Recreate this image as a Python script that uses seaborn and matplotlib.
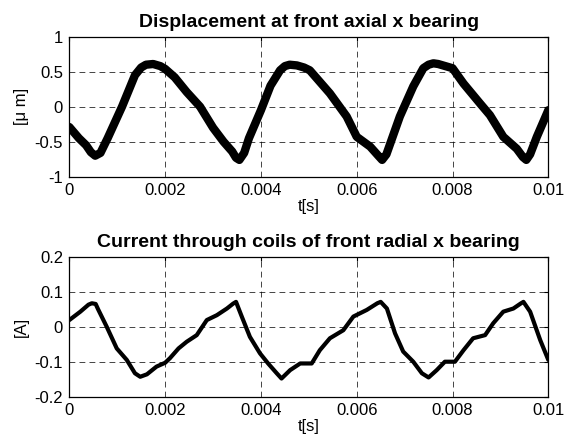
import numpy as np
import matplotlib
matplotlib.use("Agg")
import matplotlib.pyplot as plt
import seaborn as sns

# ---------------------------------------------------------------
# data (time in ms, converted to s below)
# ---------------------------------------------------------------
t_disp_ms = [0.0, 0.2, 0.35, 0.45, 0.54, 0.65, 0.8, 1.1, 1.37, 1.5, 1.6, 1.75,
             1.9, 2.0, 2.2, 2.45, 2.73, 3.0, 3.22, 3.4, 3.48, 3.55, 3.65, 3.75,
             4.0, 4.2, 4.4, 4.5, 4.6, 4.75, 4.9, 5.02, 5.44, 5.79, 6.0, 6.28,
             6.45, 6.53, 6.62, 6.9, 7.18, 7.39, 7.5, 7.6, 7.7, 7.85, 8.0, 8.23,
             8.57, 8.78, 9.06, 9.34, 9.47, 9.54, 9.62, 9.76, 10.0]
disp_um = [-0.29, -0.45, -0.55, -0.65, -0.70, -0.66, -0.45, 0.0, 0.45, 0.56, 0.6, 0.61,
           0.58, 0.54, 0.42, 0.21, 0.0, -0.3, -0.5, -0.64, -0.73, -0.76, -0.66, -0.45,
           -0.05, 0.3, 0.52, 0.58, 0.6, 0.59, 0.56, 0.52, 0.19, -0.14, -0.43, -0.57,
           -0.7, -0.76, -0.68, -0.14, 0.29, 0.55, 0.6, 0.62, 0.61, 0.58, 0.55, 0.33,
           0.05, -0.12, -0.43, -0.6, -0.72, -0.76, -0.68, -0.43, -0.05]

t_curr_ms = [0.0, 0.23, 0.4, 0.47, 0.55, 0.6, 0.78, 0.99, 1.2, 1.37, 1.48, 1.62,
             1.82, 2.0, 2.1, 2.28, 2.45, 2.66, 2.87, 3.08, 3.29, 3.42, 3.48, 3.6,
             3.77, 3.98, 4.15, 4.33, 4.43, 4.61, 4.82, 5.06, 5.23, 5.44, 5.72, 5.93,
             6.21, 6.43, 6.5, 6.63, 6.8, 6.97, 7.18, 7.36, 7.5, 7.67, 7.84, 8.05,
             8.23, 8.43, 8.68, 8.85, 9.06, 9.27, 9.42, 9.48, 9.62, 9.83, 10.0]
curr_a = [0.019, 0.043, 0.063, 0.067, 0.065, 0.05, 0.0, -0.062, -0.095, -0.133, -0.143, -0.136,
          -0.114, -0.103, -0.09, -0.062, -0.043, -0.024, 0.019, 0.033, 0.052, 0.066, 0.071, 0.029,
          -0.029, -0.076, -0.105, -0.133, -0.148, -0.124, -0.105, -0.105, -0.067, -0.033, -0.01, 0.029,
          0.048, 0.067, 0.071, 0.052, -0.019, -0.071, -0.1, -0.133, -0.145, -0.124, -0.1, -0.1,
          -0.067, -0.033, -0.024, 0.01, 0.043, 0.052, 0.066, 0.071, 0.043, -0.038, -0.095]

x_ticks = [0, 0.002, 0.004, 0.006, 0.008, 0.01]
x_ticklabels = ["0", "0.002", "0.004", "0.006", "0.008", "0.01"]
disp_yticks = [-1, -0.5, 0, 0.5, 1]
disp_yticklabels = ["-1", "-0.5", "0", "0.5", "1"]
curr_yticks = [-0.2, -0.1, 0, 0.1, 0.2]
curr_yticklabels = ["-0.2", "-0.1", "0", "0.1", "0.2"]

t_disp = np.array(t_disp_ms) / 1000.0
t_curr = np.array(t_curr_ms) / 1000.0

# ---------------------------------------------------------------
# style
# ---------------------------------------------------------------
sns.set_style("white")
plt.rcParams['font.family'] = ['Liberation Sans', 'DejaVu Sans']
plt.rcParams['text.color'] = 'black'
plt.rcParams['axes.labelcolor'] = 'black'
plt.rcParams['lines.solid_joinstyle'] = 'round'

fig = plt.figure(figsize=(5.65, 4.46), dpi=100)
ax1 = fig.add_axes([0.1227, 0.6038, 0.8478, 0.3139])
ax2 = fig.add_axes([0.1227, 0.1105, 0.8478, 0.3139])


def style_axes(ax, yticks, yticklabels, ylim, ylabel, title):
    ax.set_xlim(0, 0.01)
    ax.set_ylim(*ylim)
    ax.set_xticks(x_ticks)
    ax.set_xticklabels(x_ticklabels)
    ax.set_yticks(yticks)
    ax.set_yticklabels(yticklabels)
    ax.tick_params(direction='in', length=3, width=0.8, top=True, right=True,
                   labelsize=12, pad=4.5, colors='black')
    ax.grid(True, linestyle=(0, (7, 5)), color='black', linewidth=0.6, alpha=0.85)
    for sp in ax.spines.values():
        sp.set_color('black')
        sp.set_linewidth(0.9)
    ax.set_xlabel('t[s]', fontsize=12, labelpad=1)
    ax.set_ylabel(ylabel, fontsize=12, labelpad=4)
    ax.set_title(title, fontsize=14, fontweight='bold', pad=7, color='black')


# Top panel: displacement
sns.lineplot(x=t_disp, y=disp_um, ax=ax1, color='black', linewidth=6,
             estimator=None, sort=False)
style_axes(ax1, disp_yticks, disp_yticklabels, (-1, 1), '[\u03bc m]',
           'Displacement at front axial x bearing')

# Bottom panel: coil current
sns.lineplot(x=t_curr, y=curr_a, ax=ax2, color='black', linewidth=3,
             estimator=None, sort=False)
style_axes(ax2, curr_yticks, curr_yticklabels, (-0.2, 0.2), '[A]',
           'Current through coils of front radial x bearing')

fig.savefig('out.png', dpi=100)
